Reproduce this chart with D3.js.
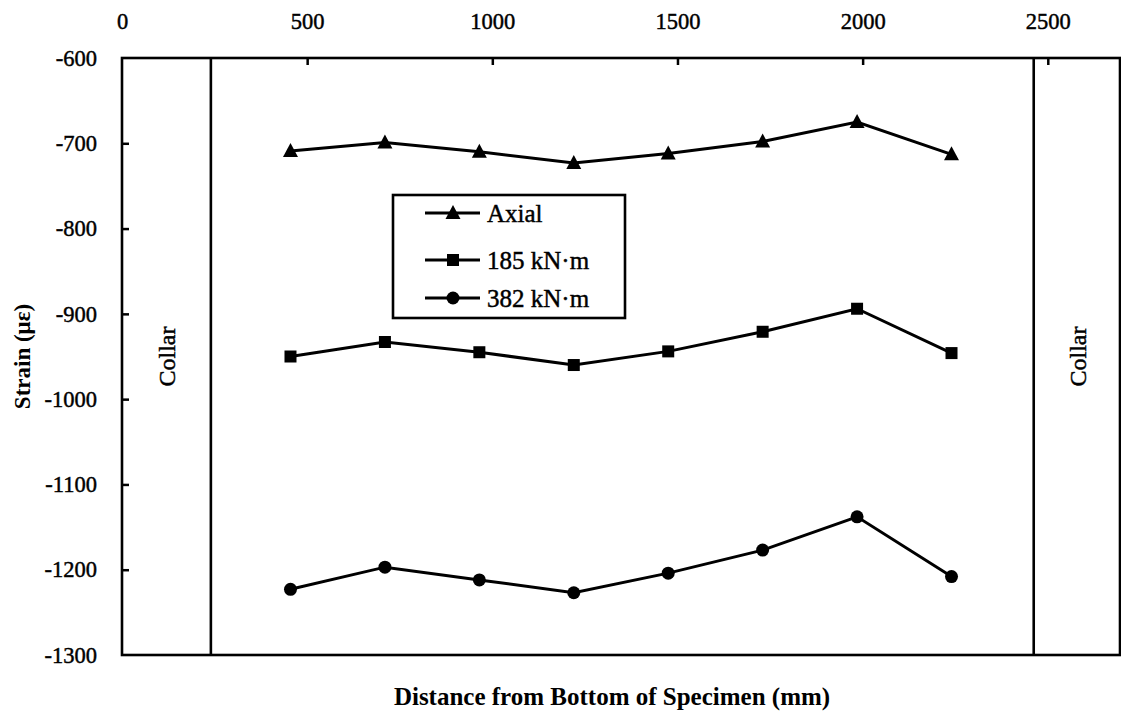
<!DOCTYPE html>
<html>
<head>
<meta charset="utf-8">
<script src="https://cdn.jsdelivr.net/npm/d3@7"></script>
<style>
  html, body { margin: 0; padding: 0; background: #fff; }
  svg { display: block; }
  text { font-family: "Liberation Serif", "DejaVu Serif", serif; fill: #000; }
  text.heavy { stroke: #000; stroke-width: 0.45px; }
</style>
</head>
<body>
<svg id="chart" width="1121" height="721"></svg>
<script>
// Gauge locations along the specimen (mm)
const positions = [455, 710, 965, 1220, 1475, 1730, 1985, 2240];

// Measured strain (microstrain) for each load case
const axial   = [-709, -699, -710, -723, -712, -698, -675, -713];
const m185    = [-950, -933, -945, -960, -944, -921, -894, -946];
const m382    = [-1223, -1197, -1212, -1227, -1204, -1177, -1138, -1208];

const seriesNames = ["Axial", "185 kN\u00B7m", "382 kN\u00B7m"];
const seriesShapes = ["triangle", "square", "circle"];

// Axis ticks
const xTicks = [0, 500, 1000, 1500, 2000, 2500];
const yTicks = [-600, -700, -800, -900, -1000, -1100, -1200, -1300];

// Collar boundaries (mm)
const collars = [240, 2462];

const svg = d3.select("#chart");
const plotLeft = 122, plotRight = 1120, plotTop = 58, plotBottom = 655;

const x = d3.scaleLinear().domain([0, 2695]).range([plotLeft, plotRight]);
const y = d3.scaleLinear().domain([-600, -1300]).range([plotTop, plotBottom]);

// Plain hyphen for negative numbers
const fmt = d => String(d);

// Top axis: labels above, ticks pointing into the plot
const xAxis = svg.append("g")
  .attr("transform", `translate(0,${plotTop})`)
  .call(d3.axisTop(x).tickValues(xTicks).tickSizeInner(-7).tickSizeOuter(0).tickPadding(29)
        .tickFormat(fmt));
xAxis.select(".domain").remove();
xAxis.selectAll(".tick line").attr("stroke", "#000").attr("stroke-width", 2.5)
  .filter(d => d === 0).remove();
xAxis.selectAll(".tick text").attr("class", "heavy")
  .attr("font-size", 22.5).attr("font-family", "Liberation Serif");

// Left axis: ticks pointing into the plot
const yAxis = svg.append("g")
  .attr("transform", `translate(${plotLeft},0)`)
  .call(d3.axisLeft(y).tickValues(yTicks).tickSizeInner(-7).tickSizeOuter(0).tickPadding(25)
        .tickFormat(fmt));
yAxis.select(".domain").remove();
yAxis.selectAll(".tick line").attr("stroke", "#000").attr("stroke-width", 2.5)
  .filter(d => d === -600 || d === -1300).remove();
yAxis.selectAll(".tick text").attr("class", "heavy")
  .attr("font-size", 22.5).attr("font-family", "Liberation Serif");

// Plot frame
svg.append("rect")
  .attr("x", plotLeft).attr("y", plotTop)
  .attr("width", plotRight - plotLeft).attr("height", plotBottom - plotTop)
  .attr("fill", "none").attr("stroke", "#000").attr("stroke-width", 2.6);

// Collar boundary lines
svg.selectAll(".collar")
  .data(collars).enter().append("line")
  .attr("class", "collar")
  .attr("x1", d => x(d)).attr("x2", d => x(d))
  .attr("y1", plotTop).attr("y2", plotBottom)
  .attr("stroke", "#000").attr("stroke-width", 2.6);

// Collar labels, centred in each collar zone
const collarZones = [[plotLeft, x(collars[0])], [x(collars[1]), plotRight]];
svg.selectAll(".collar-label")
  .data(collarZones).enter().append("text")
  .attr("class", "heavy")
  .attr("transform", d => `translate(${(d[0] + d[1]) / 2 + 9},${(plotTop + plotBottom) / 2}) rotate(-90)`)
  .attr("text-anchor", "middle")
  .attr("font-size", 24)
  .attr("font-family", "Liberation Sans, Arial, sans-serif")
  .text("Collar");

// Axis titles
svg.append("text")
  .attr("transform", `translate(30,${(plotTop + plotBottom) / 2}) rotate(-90)`)
  .attr("text-anchor", "middle")
  .attr("font-size", 23).attr("font-weight", "bold")
  .text("Strain (\u03BC\u03B5)");

svg.append("text")
  .attr("x", 612).attr("y", 705)
  .attr("text-anchor", "middle")
  .attr("font-size", 25).attr("font-weight", "bold")
  .text("Distance from Bottom of Specimen (mm)");

// Series
const seriesData = [axial, m185, m382];
const line = d3.line().x((d, i) => x(positions[i])).y(d => y(d));

function drawMarker(g, shape, cx, cy) {
  if (shape === "triangle") {
    g.append("path")
      .attr("d", `M${cx},${cy - 8} L${cx + 7.5},${cy + 6} L${cx - 7.5},${cy + 6} Z`)
      .attr("fill", "#000");
  } else if (shape === "square") {
    g.append("rect")
      .attr("x", cx - 6).attr("y", cy - 6).attr("width", 12).attr("height", 12)
      .attr("fill", "#000");
  } else {
    g.append("circle").attr("cx", cx).attr("cy", cy).attr("r", 6.5).attr("fill", "#000");
  }
}

seriesData.forEach((vals, s) => {
  const g = svg.append("g");
  g.append("path")
    .datum(vals)
    .attr("d", line)
    .attr("fill", "none").attr("stroke", "#000").attr("stroke-width", 3);
  vals.forEach((v, i) => drawMarker(g, seriesShapes[s], x(positions[i]), y(v)));
});

// Legend
const legend = svg.append("g").attr("transform", "translate(393,195)");
legend.append("rect")
  .attr("width", 232).attr("height", 123)
  .attr("fill", "#fff").attr("stroke", "#000").attr("stroke-width", 2.6);
const rowY = [18, 65, 103];
seriesNames.forEach((name, s) => {
  const row = legend.append("g");
  row.append("line")
    .attr("x1", 32).attr("x2", 87).attr("y1", rowY[s]).attr("y2", rowY[s])
    .attr("stroke", "#000").attr("stroke-width", 3);
  drawMarker(row, seriesShapes[s], 60, rowY[s]);
  row.append("text")
    .attr("class", "heavy")
    .attr("x", 94).attr("y", rowY[s]).attr("dy", "0.35em")
    .attr("font-size", 25)
    .text(name);
});
</script>
</body>
</html>
